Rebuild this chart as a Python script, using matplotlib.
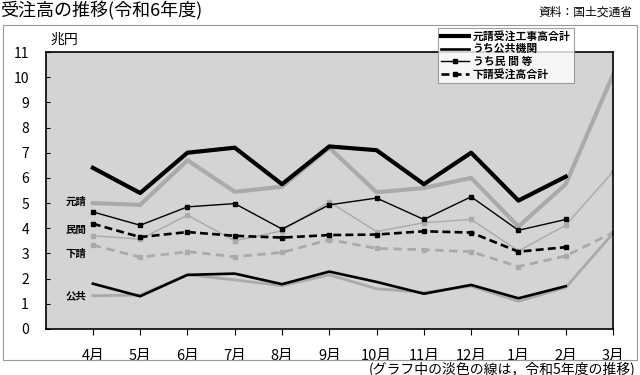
import matplotlib
matplotlib.use("Agg")
import matplotlib.pyplot as plt
from matplotlib.lines import Line2D
from matplotlib.patches import Rectangle

plt.rcParams['font.family'] = ['Noto Sans CJK JP', 'DejaVu Sans']

months = ['4月', '5月', '6月', '7月', '8月', '9月', '10月', '11月', '12月', '1月', '2月', '3月']

# 令和6年度 (dark lines), no March value yet
moto_r6 = [6.4, 5.4, 7.0, 7.2, 5.75, 7.25, 7.1, 5.75, 7.0, 5.1, 6.05]
kokyo_r6 = [1.8, 1.3, 2.15, 2.2, 1.78, 2.28, 1.87, 1.4, 1.75, 1.22, 1.7]
minkan_r6 = [4.65, 4.12, 4.85, 4.98, 3.97, 4.93, 5.2, 4.35, 5.25, 3.92, 4.35]
shita_r6 = [4.18, 3.65, 3.85, 3.7, 3.63, 3.73, 3.75, 3.88, 3.83, 3.07, 3.25]

# 令和5年度 (light lines)
moto_r5 = [5.0, 4.93, 6.7, 5.45, 5.65, 7.2, 5.43, 5.6, 6.0, 4.07, 5.75, 10.1]
kokyo_r5 = [1.32, 1.35, 2.15, 1.95, 1.72, 2.15, 1.6, 1.45, 1.7, 1.1, 1.65, 3.8]
minkan_r5 = [3.7, 3.57, 4.52, 3.5, 3.9, 5.05, 3.87, 4.22, 4.35, 3.1, 4.12, 6.25]
shita_r5 = [3.33, 2.85, 3.07, 2.87, 3.04, 3.55, 3.2, 3.15, 3.07, 2.48, 2.9, 3.83]

series_labels = ['元請', '民間', '下請', '公共']
label_y = [5.05, 3.95, 3.0, 1.3]
legend_names = ['元請受注工事高合計', 'うち公共機関', 'うち民 間 等', '下請受注高合計']

gray = '#aaaaaa'
x6 = list(range(1, len(moto_r6) + 1))
x5 = list(range(1, len(moto_r5) + 1))

fig = plt.figure(figsize=(6.4, 3.75), dpi=100)

# outer frame
fig.patches.append(Rectangle((3 / 640, 1 - 360 / 375), 634 / 640, 335 / 375,
                             transform=fig.transFigure, fill=False,
                             edgecolor='#999999', linewidth=0.8))

ax = fig.add_axes([45.6 / 640, 1 - 329 / 375, (613 - 45.6) / 640, 277 / 375])
ax.set_facecolor('#d4d4d4')

# previous year (light)
ax.plot(x5, moto_r5, color=gray, lw=3.0)
ax.plot(x5, kokyo_r5, color=gray, lw=2.0)
ax.plot(x5, minkan_r5, color=gray, lw=1.0, marker='s', ms=2.5)
ax.plot(x5, shita_r5, color=gray, lw=2.0, ls=(0, (3, 2)), marker='s', ms=2.5)

# current year (dark)
ax.plot(x6, moto_r6, color='black', lw=3.0)
ax.plot(x6, kokyo_r6, color='black', lw=1.9)
ax.plot(x6, minkan_r6, color='black', lw=1.0, marker='s', ms=2.5)
ax.plot(x6, shita_r6, color='black', lw=1.9, ls=(0, (3, 1.6)), marker='s', ms=2.5)

for lab, yy in zip(series_labels, label_y):
    ax.text(0.65, yy, lab, fontsize=7.5, fontweight='bold', ha='center', va='center')

ax.set_xlim(0, 12)
ax.set_ylim(0, 11)
ax.set_xticks(range(1, 13))
ax.set_xticklabels(months, fontsize=10.5)
ax.set_yticks(range(0, 12))
ax.tick_params(axis='x', direction='out', length=4, pad=10)
ax.tick_params(axis='y', direction='in', length=3, labelsize=10, pad=12)
for s in ax.spines.values():
    s.set_linewidth(1.2)

fig.text(50 / 640, 1 - 40 / 375, '兆円', fontsize=10, va='center')

fig.text(0.0, 1 - 16 / 375, '受注高の推移(令和6年度)', fontsize=13, va='baseline')
fig.text(632 / 640, 1 - 16 / 375, '資料：国土交通省', fontsize=8.5, va='baseline', ha='right')
fig.text(636 / 640, 1 - 373 / 375, '(グラフ中の淡色の線は，令和5年度の推移)', fontsize=10,
         va='baseline', ha='right')

handles = [
    Line2D([0, 0.5, 1], [0, 0, 0], color='black', lw=3.0),
    Line2D([0, 0.5, 1], [0, 0, 0], color='black', lw=1.9),
    Line2D([0, 0.5, 1], [0, 0, 0], color='black', lw=1.0, marker='s', ms=2.5, markevery=[1]),
    Line2D([0, 0.5, 1], [0, 0, 0], color='black', lw=1.9, ls=(0, (3, 1.6)),
           marker='s', ms=2.5, markevery=[2]),
]
leg = fig.legend(handles, legend_names, loc='upper left',
                 bbox_to_anchor=(438 / 640, 1 - 28 / 375), fontsize=7.8,
                 frameon=True, fancybox=False, handlelength=2.6, handletextpad=0.3,
                 labelspacing=0.2, borderpad=0.3, borderaxespad=0)
leg.get_frame().set_edgecolor('#888888')
leg.get_frame().set_linewidth(0.8)
for t in leg.get_texts():
    t.set_fontweight('bold')

fig.savefig('out.png', dpi=100)
